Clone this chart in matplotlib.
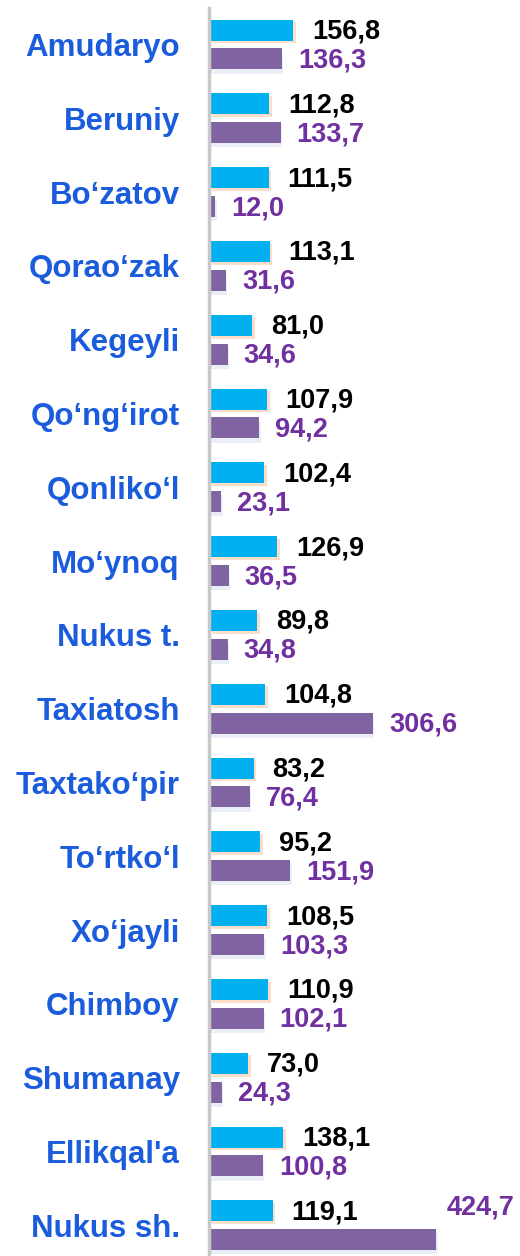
import numpy as np
import matplotlib
matplotlib.use('Agg')
from matplotlib import pyplot as plt
import matplotlib.patheffects as pe

districts = ['Amudaryo', 'Beruniy', 'Bo\u2018zatov', 'Qorao\u2018zak', 'Kegeyli',
             'Qo\u2018ng\u2018irot', 'Qonliko\u2018l', 'Mo\u2018ynoq', 'Nukus t.',
             'Taxiatosh', 'Taxtako\u2018pir', 'To\u2018rtko\u2018l', 'Xo\u2018jayli',
             'Chimboy', 'Shumanay', "Ellikqal'a", 'Nukus sh.']
series1 = [156.8, 112.8, 111.5, 113.1, 81.0, 107.9, 102.4, 126.9, 89.8,
           104.8, 83.2, 95.2, 108.5, 110.9, 73.0, 138.1, 119.1]
series2 = [136.3, 133.7, 12.0, 31.6, 34.6, 94.2, 23.1, 36.5, 34.8,
           306.6, 76.4, 151.9, 103.3, 102.1, 24.3, 100.8, 424.7]

cyan = '#00B0F0'
purple = '#8064A2'
lab_blue = '#1A5CDC'
val_purple = '#7030A0'

plt.rcParams['font.family'] = ['Liberation Sans', 'DejaVu Sans']

fig = plt.figure(figsize=(5.2, 12.56), dpi=100)
ax = fig.add_axes([209/520, 0.0, 311/520, 1 - 8/1256])

y = np.arange(len(districts))
off = 0.196
h = 0.285

shadow1 = [pe.SimplePatchShadow(offset=(2, -2), shadow_rgbFace='#F7C9A6', alpha=0.6), pe.Normal()]
shadow2 = [pe.SimplePatchShadow(offset=(1, -3), shadow_rgbFace='#DCE3F0', alpha=0.6), pe.Normal()]

b1 = ax.barh(y - off, series1, height=h, color=cyan, edgecolor='none')
b2 = ax.barh(y + off, series2, height=h, color=purple, edgecolor='none')
for b in b1:
    b.set_path_effects(shadow1)
for b in b2:
    b.set_path_effects(shadow2)
# thin blue sliver at the start of purple bars
ax.barh(y + off, [2.5] * len(y), height=h, color='#3344CC', edgecolor='none')

px = 1 / 0.535  # data units per pixel
for i, (v1, v2) in enumerate(zip(series1, series2)):
    ax.text(v1 + 19 * px, i - off + 0.02, f'{v1:.1f}'.replace('.', ','),
            ha='left', va='center', fontsize=19.5, fontweight='bold', color='black')
    if i == len(districts) - 1:
        ax.text(v2 + 10 * px, i - off - 0.04, f'{v2:.1f}'.replace('.', ','),
                ha='left', va='center', fontsize=19.5, fontweight='bold', color=val_purple)
    else:
        ax.text(v2 + 16 * px, i + off + 0.02, f'{v2:.1f}'.replace('.', ','),
                ha='left', va='center', fontsize=19.5, fontweight='bold', color=val_purple)

ax.set_xlim(0, 311 * px)
ax.set_ylim((1256 - 44.5) / 73.8, (8 - 44.5) / 73.8)
ax.set_yticks(y)
ax.set_yticklabels(districts, fontsize=22.5, fontweight='bold', color=lab_blue)
ax.tick_params(axis='y', length=0, pad=21)
ax.set_xticks([])
for s in ['top', 'right', 'bottom']:
    ax.spines[s].set_visible(False)
ax.spines['left'].set_color('#C8C8C8')
ax.spines['left'].set_linewidth(2.5)

fig.savefig('out.png', dpi=100)
